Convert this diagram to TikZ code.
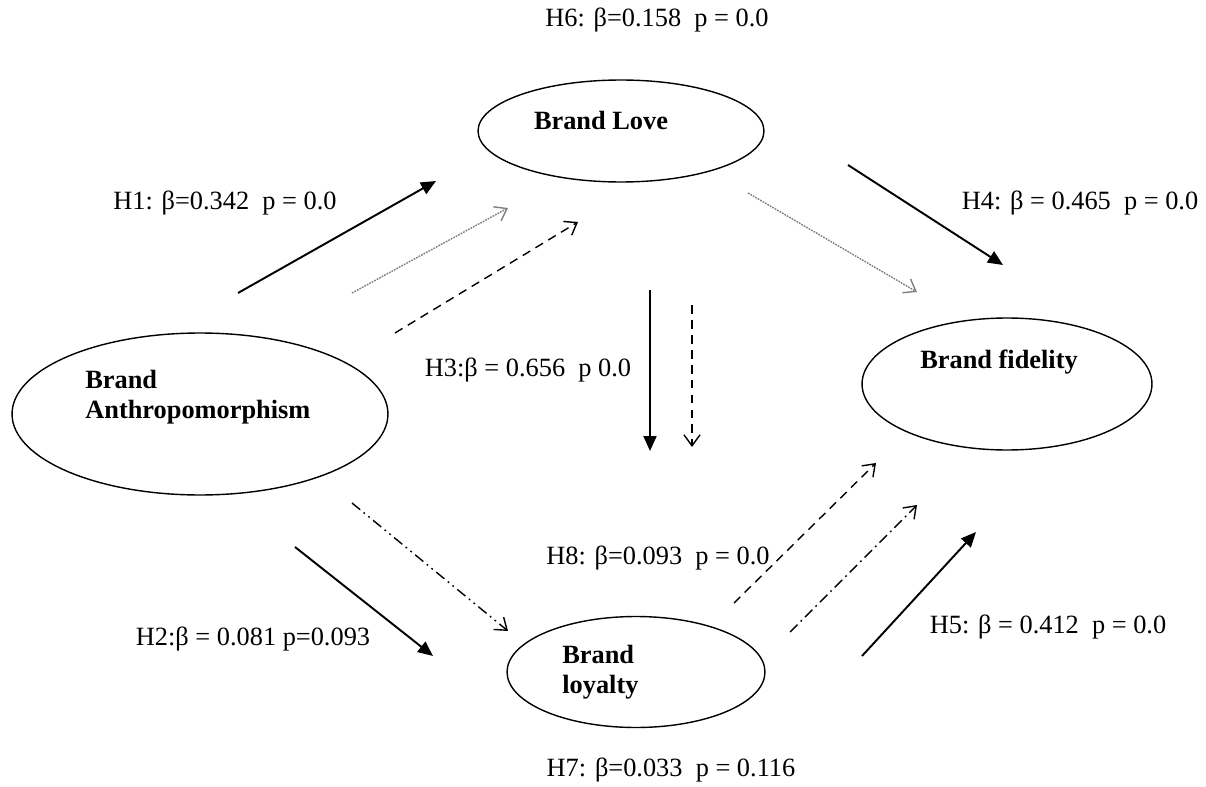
\documentclass[tikz,border=0pt]{standalone}
\usepackage{fontspec}
\setmainfont{Liberation Serif}
\usetikzlibrary{shapes.geometric,arrows.meta}
\begin{document}
\begin{tikzpicture}[x=0.02cm,y=-0.02cm,
  oval/.style={draw, line width=0.8pt, ellipse, inner sep=0pt},
  lbl/.style={font=\fontsize{15}{17}\selectfont, inner sep=0pt},
  ttl/.style={font=\fontsize{15}{17}\selectfont\bfseries, inner sep=0pt, align=left},
  solidarr/.style={line width=1.1pt, -{Triangle[length=0.3cm,width=0.26cm]}},
  openarr/.style={line width=0.8pt, -{Straight Barb[length=0.22cm,width=0.32cm]}},
  dotarr/.style={openarr, gray, dash pattern=on 1pt off 0.6pt},
  dasharr/.style={openarr, dash pattern=on 5pt off 3.5pt},
  ddarr/.style={openarr, dash pattern=on 6pt off 2.5pt on 1pt off 2.5pt on 1pt off 2.5pt},
  darr/.style={openarr, dash pattern=on 6pt off 2.5pt on 1pt off 2.5pt}]
\useasboundingbox (0,0) rectangle (1206,787);

% ellipses
\node[oval, minimum width=5.72cm, minimum height=2.04cm] (love) at (621,131) {};
\node[oval, minimum width=7.52cm, minimum height=3.24cm] (anth) at (200,414) {};
\node[oval, minimum width=5.8cm, minimum height=2.64cm] (fid) at (1007,384) {};
\node[oval, minimum width=5.16cm, minimum height=2.22cm] (loy) at (636,672) {};

% titles
\node[ttl] (tlove) at (601,120) {Brand Love};
\node[ttl, anchor=west] (tanth) at (85,397) {Brand\\Anthropomorphism};
\node[ttl] (tfid) at (999,362) {Brand fidelity};
\node[ttl, anchor=west] (tloy) at (562,672) {Brand\\loyalty};

% labels
\node[lbl] (h6) at (657,20) {H6: β=0.158\ \ p = 0.0};
\node[lbl] (h1) at (225,203) {H1: β=0.342\ \ p = 0.0};
\node[lbl] (h4) at (1080,203) {H4: β = 0.465\ \ p = 0.0};
\node[lbl] (h3) at (528,370) {H3:β = 0.656\ \ p 0.0};
\node[lbl] (h8) at (658,558) {H8: β=0.093\ \ p = 0.0};
\node[lbl] (h2) at (253,639) {H2:β = 0.081 p=0.093};
\node[lbl] (h5) at (1048,627) {H5: β = 0.412\ \ p = 0.0};
\node[lbl] (h7) at (671,770) {H7: β=0.033\ \ p = 0.116};

% arrow end points
\coordinate (a1s) at (238,293); \coordinate (a1e) at (436,181);
\coordinate (a2s) at (352,293); \coordinate (a2e) at (508,208);
\coordinate (a3s) at (395,333); \coordinate (a3e) at (578,222);
\coordinate (b1s) at (748,193); \coordinate (b1e) at (917,292);
\coordinate (b2s) at (848,165); \coordinate (b2e) at (1003,265);
\coordinate (c1s) at (650,290); \coordinate (c1e) at (650,451);
\coordinate (c2s) at (692,305); \coordinate (c2e) at (692,447);
\coordinate (d1s) at (295,547); \coordinate (d1e) at (433,656);
\coordinate (d2s) at (352,503); \coordinate (d2e) at (508,631);
\coordinate (e1s) at (734,603); \coordinate (e1e) at (876,463);
\coordinate (e2s) at (790,632); \coordinate (e2e) at (917,505);
\coordinate (e3s) at (862,656); \coordinate (e3e) at (976,532);

\draw[solidarr] (a1s) -- (a1e);
\draw[dotarr] (a2s) -- (a2e);
\draw[dasharr] (a3s) -- (a3e);
\draw[dotarr] (b1s) -- (b1e);
\draw[solidarr] (b2s) -- (b2e);
\draw[solidarr] (c1s) -- (c1e);
\draw[dasharr] (c2s) -- (c2e);
\draw[solidarr] (d1s) -- (d1e);
\draw[ddarr] (d2s) -- (d2e);
\draw[dasharr] (e1s) -- (e1e);
\draw[darr] (e2s) -- (e2e);
\draw[solidarr] (e3s) -- (e3e);
\end{tikzpicture}
\end{document}
